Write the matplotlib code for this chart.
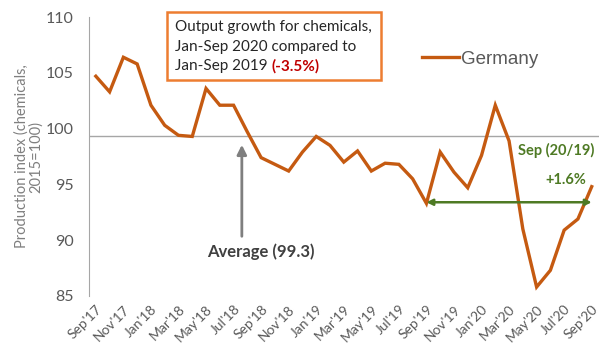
import numpy as np
import matplotlib.pyplot as plt
from matplotlib.patches import Rectangle

# Datos (indice de produccion quimica, Alemania)
meses = ["Sep'17", "Oct'17", "Nov'17", "Dec'17", "Jan'18", "Feb'18", "Mar'18", "Apr'18",
         "May'18", "Jun'18", "Jul'18", "Aug'18", "Sep'18", "Oct'18", "Nov'18", "Dec'18",
         "Jan'19", "Feb'19", "Mar'19", "Apr'19", "May'19", "Jun'19", "Jul'19", "Aug'19",
         "Sep'19", "Oct'19", "Nov'19", "Dec'19", "Jan'20", "Feb'20", "Mar'20", "Apr'20",
         "May'20", "Jun'20", "Jul'20", "Aug'20", "Sep'20"]
germany = [104.7, 103.3, 106.4, 105.8, 102.1, 100.3, 99.4, 99.3,
           103.6, 102.1, 102.1, 99.7, 97.4, 96.8, 96.2, 97.9,
           99.3, 98.5, 97.0, 98.0, 96.2, 96.9, 96.8, 95.5,
           93.3, 97.9, 96.1, 94.7, 97.6, 102.1, 98.9, 91.0,
           85.8, 87.3, 90.9, 91.9, 94.8]
promedio = 99.3

color_linea = '#C55A11'
gris = '#7F7F7F'
verde = '#4E7A24'

plt.rcParams['font.family'] = ['Lato', 'DejaVu Sans']

fig = plt.figure(figsize=(6.01, 3.49), dpi=100)
ax = fig.add_axes([0.148, 0.152, 0.848, 0.799])

x = np.arange(len(meses))
ax.plot(x, germany, color=color_linea, lw=2.4, label='Germany', solid_joinstyle='miter')
ax.axhline(promedio, color='#A6A6A6', lw=1.0, zorder=0)

ax.set_xlim(-0.5, 36.5)
ax.set_ylim(85, 110)
ax.set_yticks(range(85, 111, 5))
ax.set_xticks(x[::2])
ax.set_xticklabels(meses[::2], rotation=45, ha='right', rotation_mode='anchor',
                   fontsize=10, color='#595959')
ax.tick_params(axis='y', labelsize=11.5, colors='#595959', length=0, pad=11)
ax.tick_params(axis='x', length=0, pad=5)
for s in ['top', 'right', 'bottom']:
    ax.spines[s].set_visible(False)
ax.spines['left'].set_color('#A6A6A6')
ax.set_ylabel('Production index (chemicals,\n2015=100)', fontsize=10.5, color='#7F7F7F',
              labelpad=2, linespacing=1.0)

# Leyenda
ax.legend(loc='upper left', bbox_to_anchor=(0.62, 0.94), frameon=False,
          handlelength=2.0, handletextpad=0.1, labelcolor='#595959',
          prop={'family': 'Liberation Sans', 'size': 13.5})

# Flecha del promedio
ax.annotate('', xy=(10.6, 98.8), xytext=(10.6, 90.1),
            arrowprops=dict(arrowstyle='-|>', color=gris, lw=2, mutation_scale=14))
ax.text(11.95, 89.0, 'Average (99.3)', ha='center', va='center', fontsize=12,
        fontweight='bold', color='#404040')

# Flecha Sep 19 - Sep 20
ax.annotate('', xy=(24, 93.4), xytext=(36, 93.4),
            arrowprops=dict(arrowstyle='<|-|>', color=verde, lw=1.8, mutation_scale=9,
                            shrinkA=0, shrinkB=0))
ax.text(36.2, 98.0, 'Sep (20/19)', ha='right', va='center', fontsize=10.5,
        fontweight='bold', color=verde)
ax.text(34.1, 95.4, '+1.6%', ha='center', va='center', fontsize=10.5,
        fontweight='bold', color=verde)

# Cuadro de texto
fig.add_artist(Rectangle((167 / 601, 1 - 80 / 349), 214 / 601, 68 / 349,
                         transform=fig.transFigure, fc='white', ec='#ED7D31', lw=1.8))
tx = 175 / 601
lineas = ['Output growth for chemicals,', 'Jan-Sep 2020 compared to', 'Jan-Sep 2019 ']
ys = [27, 46.5, 66]
for t, yy in zip(lineas, ys):
    ult = fig.text(tx, 1 - yy / 349, t, ha='left', va='center', fontsize=11, color='#262626')
fig.canvas.draw()
bb = ult.get_window_extent()
fig.text(bb.x1 / fig.bbox.width, 1 - ys[2] / 349, '(-3.5%)', ha='left', va='center',
         fontsize=11, fontweight='bold', color='#C00000')

fig.savefig('out.png', dpi=100)
